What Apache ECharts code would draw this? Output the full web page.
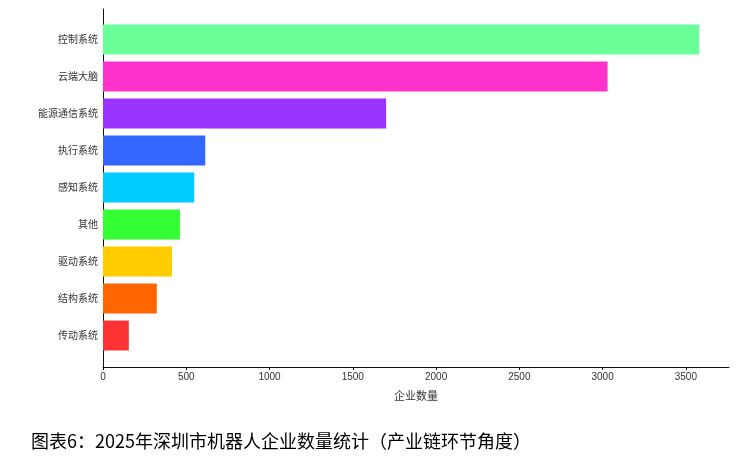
<!DOCTYPE html>
<html>
<head>
<meta charset="utf-8">
<script src="https://cdn.jsdelivr.net/npm/echarts@6/dist/echarts.min.js"></script>
<style>
html, body { margin: 0; padding: 0; background: #fff; }
#main { width: 752px; height: 467px; }
</style>
</head>
<body>
<div id="main"></div>
<script>
var categories = ['控制系统', '云端大脑', '能源通信系统', '执行系统', '感知系统', '其他', '驱动系统', '结构系统', '传动系统'];
var counts = [3580, 3030, 1700, 614, 548, 462, 414, 323, 155];
var barColors = ['#6bff99', '#ff33cc', '#9933ff', '#3366ff', '#00ccff', '#33ff33', '#ffcc00', '#ff6600', '#ff3333'];
var xTicks = [0, 500, 1000, 1500, 2000, 2500, 3000, 3500];

var font = "'Liberation Sans', 'Noto Sans CJK SC', sans-serif";
var xMax = Math.max.apply(null, counts) * 1.05;

var chart = echarts.init(document.getElementById('main'));
chart.setOption({
    animation: false,
    textStyle: { fontFamily: font },
    title: {
        text: '图表6：2025年深圳市机器人企业数量统计（产业链环节角度）',
        left: 31,
        top: 432,
        padding: 0,
        textStyle: { fontSize: 18, fontWeight: 'normal', color: '#000', fontFamily: "'Noto Sans CJK SC', sans-serif" }
    },
    grid: [
        { left: 103, width: 626, top: 9, height: 358 },
        { left: 103, width: 626, top: 21, height: 333 }
    ],
    xAxis: [{
        type: 'value', gridIndex: 0, min: 0, max: xMax,
        name: '企业数量', nameLocation: 'middle', nameGap: 24,
        nameTextStyle: { fontSize: 11, color: '#333' },
        splitLine: { show: false },
        axisLine: { show: true, lineStyle: { color: '#111', width: 1 } },
        axisTick: { show: true, length: 3, customValues: xTicks, lineStyle: { color: '#111' } },
        axisLabel: {
            fontSize: 10, color: '#333', margin: 5, customValues: xTicks,
            formatter: function(v) { return String(v); }
        }
    }, {
        type: 'value', gridIndex: 1, min: 0, max: xMax, show: false
    }],
    yAxis: [{
        type: 'value', gridIndex: 0, min: 0, max: 1,
        axisLine: { show: true, lineStyle: { color: '#111', width: 1 } },
        axisTick: { show: false }, axisLabel: { show: false }, splitLine: { show: false }
    }, {
        type: 'category', gridIndex: 1, data: categories, inverse: true,
        axisLine: { show: false }, axisTick: { show: false },
        axisLabel: { fontSize: 10, color: '#333', margin: 5, fontFamily: "'Noto Sans CJK SC', sans-serif" }
    }],
    series: [{
        type: 'bar',
        xAxisIndex: 1,
        yAxisIndex: 1,
        barCategoryGap: '19%',
        data: counts.map(function(v, i) {
            return { value: v, itemStyle: { color: barColors[i] } };
        }),
        label: { show: true, position: 'right', color: '#fff', fontSize: 10 }
    }]
});
</script>
</body>
</html>
